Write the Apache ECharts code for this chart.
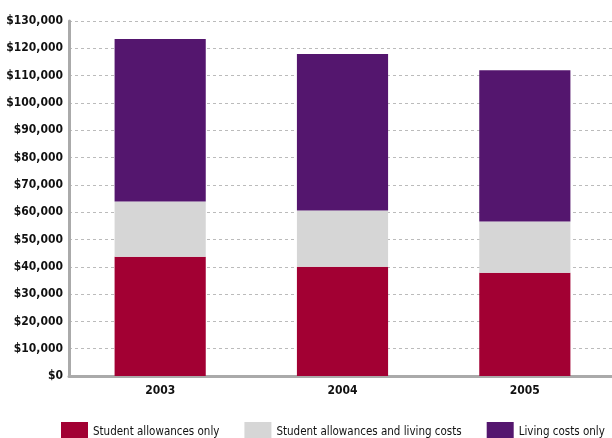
<!DOCTYPE html>
<html>
<head>
<meta charset="utf-8">
<script src="https://cdn.jsdelivr.net/npm/echarts@6/dist/echarts.min.js"></script>
<style>
  html, body { margin: 0; padding: 0; background: #fff; }
  #chart { width: 612px; height: 438px; }
</style>
</head>
<body>
<div id="chart"></div>
<script>
// Yearly funding split, stacked per year
const years = ['2003', '2004', '2005'];
const allowancesOnly = [43700, 40000, 37800];
const allowancesAndLiving = [20200, 20600, 18800];
const livingOnly = [59500, 57300, 55400];
const seriesNames = ['Student allowances only', 'Student allowances and living costs', 'Living costs only'];

const FONT = "'DejaVu Sans Condensed', 'Liberation Sans Narrow', sans-serif";

function money(v) {
  return '$' + v.toLocaleString('en-US');
}

const chart = echarts.init(document.getElementById('chart'), null, { renderer: 'canvas' });

chart.setOption({
  animation: false,
  backgroundColor: '#ffffff',
  grid: { left: 69, right: -4, top: 21, bottom: 62, containLabel: false, outerBoundsMode: 'none' },
  legend: {
    left: 61,
    top: 422,
    width: 560,
    padding: 0,
    itemWidth: 27,
    itemHeight: 20,
    itemGap: 25,
    icon: 'rect',
    textStyle: { fontFamily: FONT, fontSize: 11.5, color: '#111', padding: [2, 0, 0, 0] },
    data: seriesNames
  },
  xAxis: {
    type: 'category',
    data: years,
    axisLine: { show: true, lineStyle: { color: '#aaaaaa', width: 3 } },
    axisTick: { show: false },
    axisLabel: { fontFamily: FONT, fontSize: 12, fontWeight: 'bold', color: '#111', margin: 9 },
    splitLine: { show: false }
  },
  yAxis: {
    type: 'value',
    min: 0,
    max: 130000,
    interval: 10000,
    axisLine: { show: true, lineStyle: { color: '#aaaaaa', width: 3 } },
    axisTick: { show: false },
    axisLabel: {
      fontFamily: FONT, fontSize: 12, fontWeight: 'bold', color: '#111', margin: 6,
      formatter: money
    },
    splitLine: { show: true, lineStyle: { color: '#bbbbbb', type: [3, 3], width: 1 } }
  },
  series: [
    { name: seriesNames[0], type: 'bar', stack: 'total', data: allowancesOnly, barWidth: '50%', itemStyle: { color: '#a20033' } },
    { name: seriesNames[1], type: 'bar', stack: 'total', data: allowancesAndLiving, barWidth: '50%', itemStyle: { color: '#d6d6d6' } },
    { name: seriesNames[2], type: 'bar', stack: 'total', data: livingOnly, barWidth: '50%', itemStyle: { color: '#54166e' } }
  ]
});
</script>
</body>
</html>
